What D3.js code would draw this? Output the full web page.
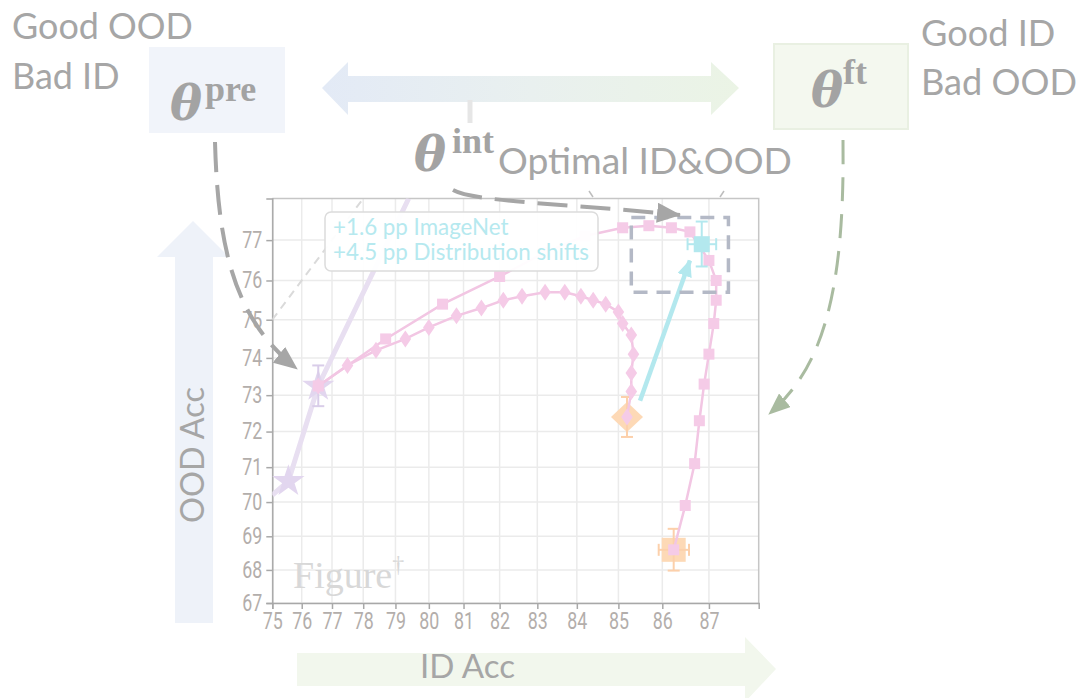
<!DOCTYPE html>
<html><head><meta charset="utf-8">
<script src="https://cdn.jsdelivr.net/npm/d3@7"></script>
<style>body{margin:0;background:#fff;} svg{display:block}</style>
</head><body>
<svg id="c" width="1081" height="698"></svg>
<script>
// ---------- data ----------
const xTicks = [75,76,77,78,79,80,81,82,83,84,85,86,87];
const yTicks = [67,68,69,70,71,72,73,74,75,76,77];
// interpolation path (squares): pre -> fine-tuned
const sqID  = [76.55,78.7,80.4,82.0,83.2,84.2,85.1,85.7,86.2,86.6,87.0,87.15,87.15,87.1,87.0,86.9,86.8,86.7,86.5,86.25];
const sqOOD = [73.25,74.5,75.4,76.1,76.7,77.1,77.3,77.35,77.3,77.2,76.5,76.0,75.5,74.9,74.1,73.3,72.3,71.1,69.9,68.6];
// interpolation path (diamonds)
const dmID  = [76.55,77.5,78.4,79.3,80.0,80.8,81.5,82.1,82.6,83.2,83.7,84.1,84.4,84.7,85.0,85.1,85.3,85.35,85.3,85.3,85.2];
const dmOOD = [73.25,73.8,74.2,74.5,74.8,75.1,75.3,75.5,75.6,75.7,75.7,75.6,75.5,75.4,75.2,74.9,74.6,74.1,73.6,73.1,72.4];
// zero-shot models (stars) and their trend line
const starID  = [75.55,76.55];
const starOOD = [70.6,73.25];
const starErr = [0,0.55];
const trendID  = [75.0,75.55,76.55,79.4];
const trendOOD = [70.2,70.6,73.25,78.0];
// y = x reference
const diagID = [75,78];
const diagOOD = [75,78];
// fine-tuned end points (orange)
const ftDiamond = {id:85.2, ood:72.4, eid:0, eood:0.55};
const ftSquare  = {id:86.25, ood:68.6, eid:0.33, eood:0.62};
// ours (cyan)
const ours = {id:86.85, ood:76.9, eid:0.3, eood:0.55};
const gainFrom = [85.5,72.85];
const gainTo   = [86.6,76.5];
const optBoxID  = [85.3,87.4];
const optBoxOOD = [75.7,77.55];
const gainText = ["+1.6 pp ImageNet","+4.5 pp Distribution shifts"];

// ---------- scales (logit axes) ----------
const logit = p => Math.log(p/(100-p));
function logitScale(domain, range){
  const lin = d3.scaleLinear().domain(domain.map(logit)).range(range);
  const s = v => lin(logit(v));
  s.domain = () => domain.slice();
  s.range = () => range.slice();
  s.copy = () => logitScale(domain, range);
  return s;
}
const X0=272.3, X1=758.7, Y0=603, Y1=198.5;
const xs = logitScale([75,88],[X0,X1]);
const ys = logitScale([67,78],[Y0,Y1]);

const svg = d3.select('#c');
const defs = svg.append('defs');
const gray = '#a6a6a6';
const LATO = 'Lato, "Open Sans", sans-serif';

function fit(sel, w){
  const fs = parseFloat(sel.attr('font-size'));
  const cur = sel.node().getComputedTextLength();
  sel.attr('font-size', fs*w/cur);
  return fs*w/cur;
}

// gradient for double arrow
const grad = defs.append('linearGradient').attr('id','dbl').attr('x1','0').attr('x2','1');
grad.append('stop').attr('offset','0').attr('stop-color','#e3eaf6');
grad.append('stop').attr('offset','0.5').attr('stop-color','#e9f0ef');
grad.append('stop').attr('offset','1').attr('stop-color','#ebf4e5');

// markers
function arrowMarker(id, color, L, W){
  defs.append('marker').attr('id',id).attr('markerUnits','userSpaceOnUse')
    .attr('viewBox',`0 0 ${L} ${W}`).attr('refX',L-1).attr('refY',W/2)
    .attr('markerWidth',L).attr('markerHeight',W).attr('orient','auto')
    .append('path').attr('d',`M0,0L${L},${W/2}L0,${W}Z`).attr('fill',color);
}
arrowMarker('agray', '#a6a6a6', 24, 20);
arrowMarker('agreen', '#a9bba0', 22, 18);
arrowMarker('acyan', '#b3e8ee', 17, 15);

// ---------- background diagram ----------
svg.append('polygon').attr('points','193,221 229,257 213,257 213,623 175,623 175,257 157,257')
  .attr('fill','#eef2f9');
svg.append('polygon').attr('points','297,653 745,653 745,637 776,669 745,702 745,686 297,686')
  .attr('fill','#f2f7ed');
svg.append('polygon').attr('points','322,88 348,62 348,76 711,76 711,62 739,88 711,115 711,102 348,102 348,115')
  .attr('fill','url(#dbl)');
svg.append('line').attr('x1',470).attr('x2',470).attr('y1',100).attr('y2',123)
  .attr('stroke','#e6e6e6').attr('stroke-width',5);

// boxes
svg.append('rect').attr('x',149).attr('y',47).attr('width',136).attr('height',86).attr('fill','#f1f4fa');
svg.append('rect').attr('x',774).attr('y',44).attr('width',134).attr('height',85)
  .attr('fill','#f4f8ef').attr('stroke','#e9f0e2').attr('stroke-width',2);

// theta labels
function theta(x, y, sup, sx, sy){
  svg.append('text').attr('x',x).attr('y',y).attr('font-family','"DejaVu Serif", serif')
    .attr('font-weight','bold').attr('font-style','italic').attr('font-size',48).attr('fill','#a3a3a3').text('θ');
  svg.append('text').attr('x',sx).attr('y',sy).attr('font-family','"Liberation Serif", serif')
    .attr('font-weight','bold').attr('font-size',36).attr('fill','#a3a3a3').text(sup);
}
theta(170,120,'pre',205,101);
theta(811,107,'ft',843,84);
theta(414,171,'int',452,153);

// side texts
const t1 = svg.append('text').attr('x',12).attr('y',38.5).attr('font-family',LATO).attr('font-size',38).attr('fill',gray).text('Good OOD');
const fs1 = fit(t1,181);
svg.append('text').attr('x',12).attr('y',89).attr('font-family',LATO).attr('font-size',fs1).attr('fill',gray).text('Bad ID');
const t2 = svg.append('text').attr('x',921).attr('y',46).attr('font-family',LATO).attr('font-size',38).attr('fill',gray).text('Bad OOD');
const fs2 = fit(t2,156);
t2.attr('y',95);
svg.append('text').attr('x',921).attr('y',46).attr('font-family',LATO).attr('font-size',fs2).attr('fill',gray).text('Good ID');
const t3 = svg.append('text').attr('x',498).attr('y',174).attr('font-family',LATO).attr('font-size',38).attr('fill',gray).text('Optimal ID&OOD');
fit(t3,294);
const t4 = svg.append('text').attr('x',420).attr('y',678).attr('font-family',LATO).attr('font-size',38).attr('fill',gray).text('ID Acc');
fit(t4,95);
const t5 = svg.append('text').attr('transform','translate(204,455) rotate(-90)').attr('text-anchor','middle')
  .attr('font-family',LATO).attr('font-size',38).attr('fill',gray).text('OOD Acc');
fit(t5,136);

// ---------- plot ----------
const plot = svg.append('g');
defs.append('clipPath').attr('id','clip').append('rect').attr('x',X0).attr('y',Y1).attr('width',X1-X0).attr('height',Y0-Y1);
plot.append('rect').attr('x',X0).attr('y',Y1).attr('width',X1-X0).attr('height',Y0-Y1).attr('fill','#fff');
plot.append('g').selectAll('line').data(xTicks).join('line')
  .attr('x1',d=>xs(d)).attr('x2',d=>xs(d)).attr('y1',Y1).attr('y2',Y0)
  .attr('stroke','#ebebeb').attr('stroke-width',1.5);
plot.append('g').selectAll('line').data(yTicks).join('line')
  .attr('y1',d=>ys(d)).attr('y2',d=>ys(d)).attr('x1',X0).attr('x2',X1)
  .attr('stroke','#ebebeb').attr('stroke-width',1.5);
plot.append('path').attr('d',`M${X0},${Y1}H${X1}V${Y0}`).attr('fill','none').attr('stroke','#c6c6c6').attr('stroke-width',1.5);

function styleAxis(g){
  g.select('.domain').attr('stroke','#a8a8a8').attr('stroke-width',1.5);
  g.selectAll('.tick line').attr('stroke','#a8a8a8').attr('stroke-width',1.5);
  g.selectAll('.tick text').attr('fill','#b3aeab').attr('font-family','Roboto, sans-serif').attr('font-size',23)
    .attr('textLength',20).attr('lengthAdjust','spacingAndGlyphs');
}
plot.append('g').attr('transform',`translate(0,${Y0})`)
  .call(d3.axisBottom(xs).tickValues(xTicks).tickSize(6).tickPadding(4).tickFormat(d3.format('d')))
  .call(styleAxis);
plot.append('g').attr('transform',`translate(${X0},0)`)
  .call(d3.axisLeft(ys).tickValues(yTicks).tickSize(6).tickPadding(4).tickFormat(d3.format('d')))
  .call(styleAxis);

const inner = plot.append('g').attr('clip-path','url(#clip)');
const line = d3.line().x(d=>xs(d[0])).y(d=>ys(d[1]));
const zip = (a,b) => a.map((v,i)=>[v,b[i]]);

inner.append('path').attr('d',line(zip(diagID,diagOOD))).attr('fill','none')
  .attr('stroke','#dadada').attr('stroke-width',2).attr('stroke-dasharray','8,6');
inner.append('path').attr('d',line(zip(trendID,trendOOD))).attr('fill','none')
  .attr('stroke','#e8dff1').attr('stroke-width',5).attr('stroke-linejoin','round');

const star = d3.symbol().type(d3.symbolStar).size(17*17/0.8908130915292852);
plot.append('g').selectAll('path').data(zip(starID,starOOD)).join('path')
  .attr('d',star).attr('transform',d=>`translate(${xs(d[0])},${ys(d[1])})`).attr('fill','#e2d6ef');

function errbar(g, d, color, cap){
  const cx = xs(d.id), cy = ys(d.ood);
  if (d.eood){
    const a = ys(d.ood+d.eood), b = ys(d.ood-d.eood);
    g.append('line').attr('x1',cx).attr('x2',cx).attr('y1',a).attr('y2',b).attr('stroke',color).attr('stroke-width',2);
    [a,b].forEach(v=>g.append('line').attr('x1',cx-cap).attr('x2',cx+cap).attr('y1',v).attr('y2',v).attr('stroke',color).attr('stroke-width',2));
  }
  if (d.eid){
    const a = xs(d.id-d.eid), b = xs(d.id+d.eid);
    g.append('line').attr('y1',cy).attr('y2',cy).attr('x1',a).attr('x2',b).attr('stroke',color).attr('stroke-width',2);
    [a,b].forEach(v=>g.append('line').attr('y1',cy-cap).attr('y2',cy+cap).attr('x1',v).attr('x2',v).attr('stroke',color).attr('stroke-width',2));
  }
}
errbar(plot, {id:starID[1], ood:starOOD[1], eood:starErr[1]}, '#d9cde9', 6);

const diamondPath = (w,h) => `M0,${-h}L${w},0L0,${h}L${-w},0Z`;
plot.append('path').attr('d',diamondPath(16,15)).attr('transform',`translate(${xs(ftDiamond.id)},${ys(ftDiamond.ood)})`).attr('fill','#fdd9b6');
errbar(plot, ftDiamond, '#fcd0ab', 6);
plot.append('rect').attr('x',xs(ftSquare.id)-12).attr('y',ys(ftSquare.ood)-12).attr('width',24).attr('height',24).attr('fill','#fdd9b6');
errbar(plot, ftSquare, '#fcd0ab', 6);

const pink = '#f5cbe7';
plot.append('path').attr('d',line(zip(sqID,sqOOD))).attr('fill','none').attr('stroke','#f2c6e3').attr('stroke-width',2.5);
plot.append('path').attr('d',line(zip(dmID,dmOOD))).attr('fill','none').attr('stroke','#f2c6e3').attr('stroke-width',2.5);
plot.append('g').selectAll('rect').data(zip(sqID,sqOOD)).join('rect')
  .attr('x',d=>xs(d[0])-5.5).attr('y',d=>ys(d[1])-5.5).attr('width',11).attr('height',11).attr('fill',pink);
plot.append('g').selectAll('path').data(zip(dmID,dmOOD)).join('path')
  .attr('d',diamondPath(5.8,8.5)).attr('transform',d=>`translate(${xs(d[0])},${ys(d[1])})`).attr('fill',pink);

plot.append('line').attr('x1',xs(gainFrom[0])).attr('y1',ys(gainFrom[1]))
  .attr('x2',xs(gainTo[0])).attr('y2',ys(gainTo[1]))
  .attr('stroke','#b3e8ee').attr('stroke-width',4.5).attr('marker-end','url(#acyan)');
errbar(plot, ours, '#b3e8ee', 6);
plot.append('rect').attr('x',xs(ours.id)-8).attr('y',ys(ours.ood)-8).attr('width',16).attr('height',16).attr('fill','#b3e8ee');

plot.append('rect').attr('x',xs(optBoxID[0])).attr('y',ys(optBoxOOD[1]))
  .attr('width',xs(optBoxID[1])-xs(optBoxID[0])).attr('height',ys(optBoxOOD[0])-ys(optBoxOOD[1]))
  .attr('fill','none').attr('stroke','#b4b9c6').attr('stroke-width',3.5).attr('stroke-dasharray','14,9');

// annotation box
plot.append('rect').attr('x',325).attr('y',212).attr('width',273).attr('height',59).attr('rx',6)
  .attr('fill','#fff').attr('fill-opacity',0.95).attr('stroke','#dcdcdc').attr('stroke-width',1.5);
const a1 = plot.append('text').attr('x',333).attr('y',235).attr('font-family',LATO).attr('font-size',20).attr('fill','#b6e9ef').text(gainText[0]);
const a2 = plot.append('text').attr('x',333).attr('y',260).attr('font-family',LATO).attr('font-size',20).attr('fill','#b6e9ef').text(gainText[1]);
const afs = fit(a2,256);
a1.attr('font-size',afs);

// Figure dagger watermark
const fig = svg.append('text').attr('x',293).attr('y',588).attr('font-family','"Liberation Serif", serif')
  .attr('font-size',38).attr('fill','#d8d8d8');
fig.append('tspan').text('Figure');
fig.append('tspan').attr('font-size',24).attr('dy',-16).text('†');

svg.append('line').attr('x1',589).attr('y1',191).attr('x2',593).attr('y2',197).attr('stroke','#bdbdbd').attr('stroke-width',1.5);
svg.append('line').attr('x1',724).attr('y1',191).attr('x2',720).attr('y2',197).attr('stroke','#bdbdbd').attr('stroke-width',1.5);

// dashed curved arrows
svg.append('path').attr('d','M215,142 C218,250 235,320 297,369').attr('fill','none')
  .attr('stroke','#a6a6a6').attr('stroke-width',4).attr('stroke-dasharray','30,13').attr('marker-end','url(#agray)');
svg.append('path').attr('d','M453,190 C475,202 560,203 680,215').attr('fill','none')
  .attr('stroke','#a6a6a6').attr('stroke-width',4).attr('stroke-dasharray','30,13').attr('marker-end','url(#agray)');
svg.append('path').attr('d','M843,140 C845,300 820,370 769,414').attr('fill','none')
  .attr('stroke','#a9bba0').attr('stroke-width',3).attr('stroke-dasharray','24,13').attr('marker-end','url(#agreen)');
</script>
</body></html>
